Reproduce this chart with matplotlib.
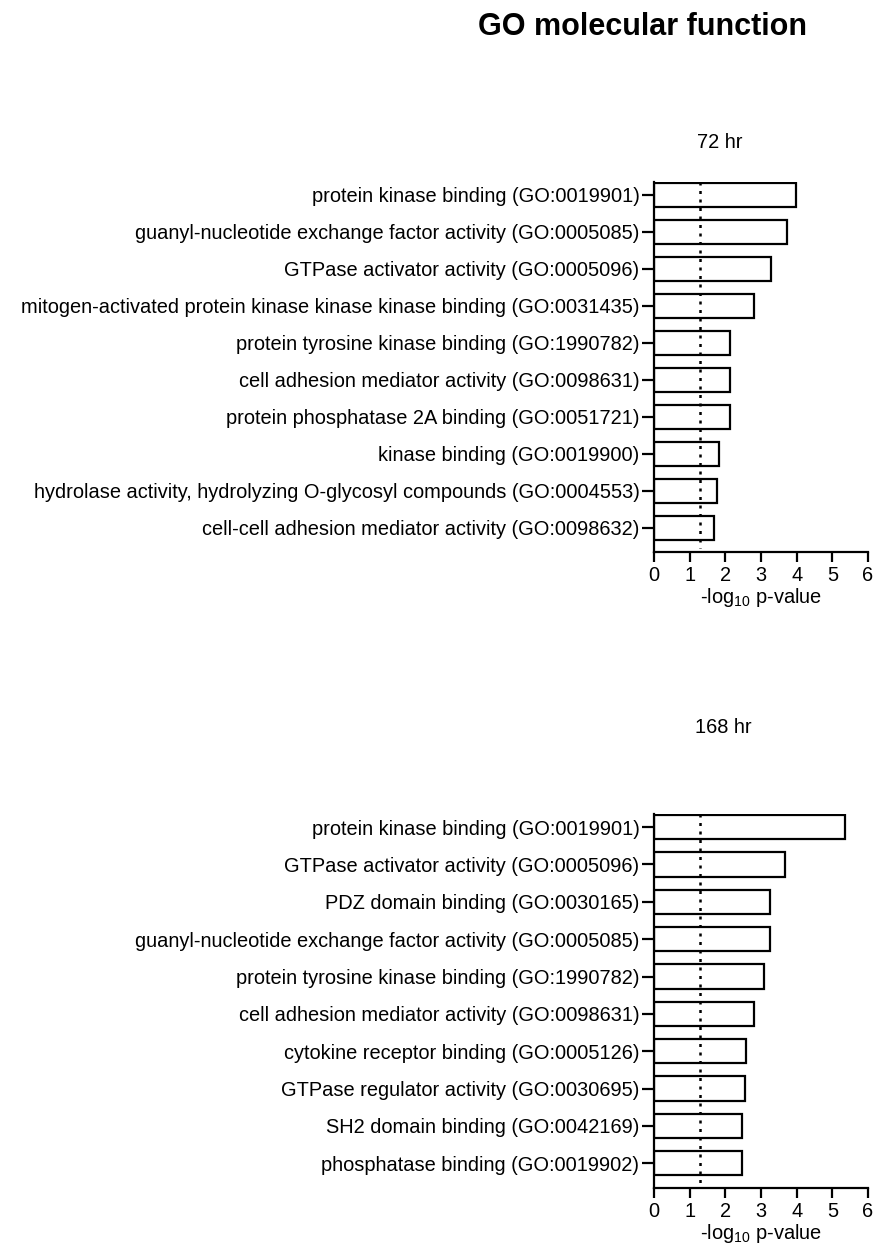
import numpy as np
import matplotlib
matplotlib.use("Agg")
import matplotlib.pyplot as plt

plt.rcParams["font.family"] = ["Liberation Sans", "DejaVu Sans"]
plt.rcParams["mathtext.default"] = "regular"

# 72 hr
terms_72 = [
    "protein kinase binding (GO:0019901)",
    "guanyl-nucleotide exchange factor activity (GO:0005085)",
    "GTPase activator activity (GO:0005096)",
    "mitogen-activated protein kinase kinase kinase binding (GO:0031435)",
    "protein tyrosine kinase binding (GO:1990782)",
    "cell adhesion mediator activity (GO:0098631)",
    "protein phosphatase 2A binding (GO:0051721)",
    "kinase binding (GO:0019900)",
    "hydrolase activity, hydrolyzing O-glycosyl compounds (GO:0004553)",
    "cell-cell adhesion mediator activity (GO:0098632)",
]
logp_72 = [3.97, 3.74, 3.27, 2.79, 2.13, 2.13, 2.13, 1.83, 1.78, 1.67]

# 168 hr
terms_168 = [
    "protein kinase binding (GO:0019901)",
    "GTPase activator activity (GO:0005096)",
    "PDZ domain binding (GO:0030165)",
    "guanyl-nucleotide exchange factor activity (GO:0005085)",
    "protein tyrosine kinase binding (GO:1990782)",
    "cell adhesion mediator activity (GO:0098631)",
    "cytokine receptor binding (GO:0005126)",
    "GTPase regulator activity (GO:0030695)",
    "SH2 domain binding (GO:0042169)",
    "phosphatase binding (GO:0019902)",
]
logp_168 = [5.35, 3.67, 3.26, 3.26, 3.09, 2.79, 2.59, 2.56, 2.48, 2.48]

cutoff = -np.log10(0.05)
xticks = [0, 1, 2, 3, 4, 5, 6]

W, H = 876, 1249
fig = plt.figure(figsize=(W / 100, H / 100), dpi=100)


def draw_panel(ax, terms, vals):
    y = np.arange(len(terms))
    ax.barh(y, vals, height=0.65, color="white", edgecolor="black", linewidth=1.6)
    ax.vlines(cutoff, -0.35, len(terms) - 0.45, colors="black",
              linestyles=(0, (1.2, 2.2)), linewidth=1.8)
    ax.set_ylim(len(terms) - 1 + 0.66, -0.35)
    ax.set_xlim(0, 6)
    ax.set_yticks(y)
    ax.set_yticklabels(terms, fontsize=14.4)
    ax.set_xticks(xticks)
    ax.tick_params(axis="x", labelsize=14.4, length=7, width=1.6, pad=3)
    ax.tick_params(axis="y", length=9, width=1.6, pad=1.5)
    for s in ["top", "right"]:
        ax.spines[s].set_visible(False)
    for s in ["left", "bottom"]:
        ax.spines[s].set_linewidth(1.6)
    ax.set_xlabel("-log$_{10}$ p-value", fontsize=14.4, labelpad=1)


ax1 = fig.add_axes([654 / W, 1 - 552 / H, 214 / W, 370 / H])
draw_panel(ax1, terms_72, logp_72)

ax2 = fig.add_axes([654 / W, 1 - 1188 / H, 214 / W, 374 / H])
draw_panel(ax2, terms_168, logp_168)

fig.text(642 / W, 1 - 35 / H, "GO molecular function", fontsize=22,
         fontweight="bold", ha="center", va="baseline")
fig.text(720 / W, 1 - 143 / H, "72 hr", fontsize=14.4, ha="center", va="center")
fig.text(723 / W, 1 - 728 / H, "168 hr", fontsize=14.4, ha="center", va="center")

fig.savefig("out.png", dpi=100)
